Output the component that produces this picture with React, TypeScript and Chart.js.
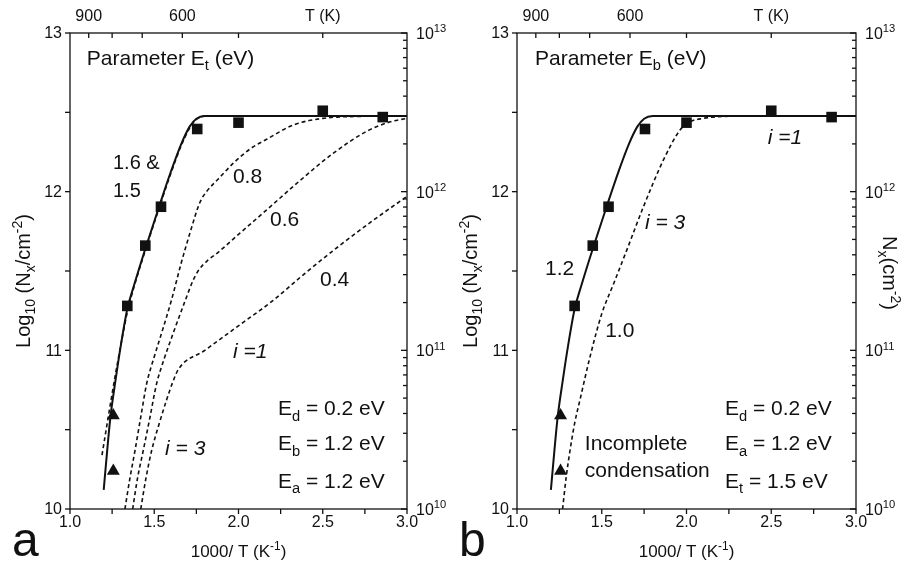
import React, { useEffect, useRef } from "react";
import { Chart, registerables } from "chart.js";

Chart.register(...registerables);

const FONT = '"Liberation Sans", Arial, Helvetica, sans-serif';
const INK = "#111";

// ---------- axes ----------
const X_MIN = 1.0;
const X_MAX = 3.0;
const Y_MIN = 10;
const Y_MAX = 13;
const X_TICK_LABELS = [1.0, 1.5, 2.0, 2.5, 3.0];
const X_MINOR_STEP = 0.25;
const Y_TICK_LABELS = [10, 11, 12, 13];
const Y_MINOR_STEP = 0.5;
const TEMP_TICKS_K = [900, 800, 700, 600, 500, 400];
const TEMP_LABELS = ["900", "", "", "600", "", "T (K)"];
const DECADES = [10, 11, 12, 13];
const LOG_MINORS = [2, 3, 4, 5, 6, 7, 8, 9];

// ---------- data (x = 1000/T, y = log10 Nx) ----------
const sqX = [1.34, 1.447, 1.54, 1.755, 2.0, 2.5, 2.856];
const sqY = [11.28, 11.66, 11.905, 12.395, 12.435, 12.51, 12.47];
const triX = [1.257, 1.257];
const triY = [10.59, 10.24];

// solid fit (Et = 1.6 in a, Eb = 1.2 in b)
const fitX = [1.2, 1.22, 1.24, 1.27, 1.3, 1.34, 1.38, 1.45, 1.53, 1.6, 1.66, 1.71, 1.75, 1.8, 2.2, 3.0];
const fitY = [10.12, 10.36, 10.58, 10.81, 11.02, 11.26, 11.41, 11.65, 11.91, 12.13, 12.3, 12.41, 12.46, 12.477, 12.477, 12.477];

// panel a: parameter Et
const et15X = [1.19, 1.21, 1.23, 1.27, 1.31, 1.34, 1.38, 1.45, 1.53, 1.6, 1.66, 1.71, 1.75, 1.8, 2.2, 3.0];
const et15Y = [10.34, 10.47, 10.6, 10.85, 11.08, 11.24, 11.4, 11.64, 11.9, 12.12, 12.29, 12.4, 12.455, 12.477, 12.477, 12.477];
const et08X = [1.326, 1.355, 1.386, 1.42, 1.455, 1.5, 1.544, 1.603, 1.66, 1.712, 1.77, 1.81, 1.88, 1.97, 2.07, 2.167, 2.325, 2.5, 2.7, 3.0];
const et08Y = [10.0, 10.19, 10.37, 10.58, 10.79, 10.96, 11.11, 11.32, 11.55, 11.74, 11.93, 12.0, 12.08, 12.18, 12.27, 12.33, 12.42, 12.462, 12.474, 12.477];
const et06X = [1.372, 1.4, 1.435, 1.475, 1.514, 1.56, 1.613, 1.686, 1.73, 1.76, 1.82, 1.87, 2.01, 2.167, 2.365, 2.56, 2.76, 2.9, 3.0];
const et06Y = [10.0, 10.19, 10.37, 10.58, 10.79, 10.95, 11.11, 11.32, 11.44, 11.5, 11.57, 11.61, 11.74, 11.885, 12.07, 12.24, 12.38, 12.44, 12.462];
const et04X = [1.42, 1.45, 1.485, 1.53, 1.574, 1.61, 1.643, 1.8, 2.02, 2.2, 2.4, 2.6, 2.8, 3.0];
const et04Y = [10.0, 10.19, 10.37, 10.54, 10.69, 10.8, 10.88, 11.0, 11.17, 11.31, 11.49, 11.66, 11.82, 11.97];

// panel b: parameter Eb
const eb10X = [1.269, 1.29, 1.313, 1.34, 1.372, 1.431, 1.5, 1.57, 1.647, 1.746, 1.864, 1.963, 2.02, 2.1, 2.18, 2.4, 3.0];
const eb10Y = [10.0, 10.2, 10.37, 10.54, 10.69, 10.96, 11.23, 11.42, 11.63, 11.905, 12.2, 12.39, 12.44, 12.462, 12.472, 12.477, 12.477];

const pts = (xs: number[], ys: number[]) => xs.map((x, i) => ({ x, y: ys[i] }));

type Seg = { t: string; k?: "sub" | "sup"; i?: boolean };
type Note = { x: number; y: number; segs: Seg[]; size: number; base?: "mid" | "alpha" };

const plain = (t: string): Seg[] => [{ t }];
const ital = (t: string): Seg[] => [{ t, i: true }];
const eq = (sym: string, sub: string, rest: string): Seg[] => [{ t: sym }, { t: sub, k: "sub" }, { t: rest }];

const NS = 21;
const NOTES_A: Note[] = [
  { x: 1.1, y: 12.8, segs: eq("Parameter E", "t", " (eV)"), size: NS, base: "alpha" },
  { x: 1.255, y: 12.19, segs: plain("1.6 &"), size: 20 },
  { x: 1.255, y: 12.01, segs: plain("1.5"), size: 20 },
  { x: 1.967, y: 12.1, segs: plain("0.8"), size: NS },
  { x: 2.187, y: 11.83, segs: plain("0.6"), size: NS },
  { x: 2.484, y: 11.456, segs: plain("0.4"), size: NS },
  { x: 1.967, y: 11.0, segs: ital("i =1"), size: NS },
  { x: 1.564, y: 10.39, segs: ital("i = 3"), size: NS },
  { x: 2.234, y: 10.637, segs: eq("E", "d", " = 0.2 eV"), size: NS },
  { x: 2.234, y: 10.417, segs: eq("E", "b", " = 1.2 eV"), size: NS },
  { x: 2.234, y: 10.183, segs: eq("E", "a", " = 1.2 eV"), size: NS },
];

const NOTES_B: Note[] = [
  { x: 1.106, y: 12.8, segs: eq("Parameter E", "b", " (eV)"), size: NS, base: "alpha" },
  { x: 2.48, y: 12.345, segs: ital("i =1"), size: NS },
  { x: 1.755, y: 11.81, segs: ital("i = 3"), size: NS },
  { x: 1.165, y: 11.52, segs: plain("1.2"), size: NS },
  { x: 1.52, y: 11.13, segs: plain("1.0"), size: NS },
  { x: 1.4, y: 10.42, segs: plain("Incomplete"), size: NS },
  { x: 1.4, y: 10.25, segs: plain("condensation"), size: NS },
  { x: 2.227, y: 10.637, segs: eq("E", "d", " = 0.2 eV"), size: NS },
  { x: 2.227, y: 10.417, segs: eq("E", "a", " = 1.2 eV"), size: NS },
  { x: 2.227, y: 10.183, segs: eq("E", "t", " = 1.5 eV"), size: NS },
];

function segFont(s: Seg, size: number) {
  const sz = s.k ? size * 0.7 : size;
  return `${s.i ? "italic " : ""}${sz}px ${FONT}`;
}
function richWidth(ctx: CanvasRenderingContext2D, segs: Seg[], size: number) {
  let w = 0;
  for (const s of segs) {
    ctx.font = segFont(s, size);
    w += ctx.measureText(s.t).width;
  }
  return w;
}
function drawRich(
  ctx: CanvasRenderingContext2D,
  segs: Seg[],
  x: number,
  y: number,
  size: number,
  align: "left" | "center" | "right"
) {
  const w = richWidth(ctx, segs, size);
  let cx = align === "center" ? x - w / 2 : align === "right" ? x - w : x;
  ctx.textAlign = "left";
  ctx.textBaseline = "alphabetic";
  for (const s of segs) {
    ctx.font = segFont(s, size);
    const dy = s.k === "sub" ? size * 0.27 : s.k === "sup" ? -size * 0.42 : 0;
    ctx.fillText(s.t, cx, y + dy);
    cx += ctx.measureText(s.t).width;
  }
}

type PanelOpts = {
  letter: string;
  notes: Note[];
  rightTitle: boolean;
};

const paperAxes = {
  id: "paperAxes",
  afterDraw(chart: any, _args: any, opts: PanelOpts) {
    const ctx: CanvasRenderingContext2D = chart.ctx;
    const a = chart.chartArea;
    const xs = chart.scales.x;
    const ys = chart.scales.y;
    ctx.save();
    ctx.strokeStyle = INK;
    ctx.fillStyle = INK;
    ctx.lineWidth = 1.3;
    ctx.strokeRect(a.left, a.top, a.right - a.left, a.bottom - a.top);

    const line = (x1: number, y1: number, x2: number, y2: number) => {
      ctx.beginPath();
      ctx.moveTo(x1, y1);
      ctx.lineTo(x2, y2);
      ctx.stroke();
    };

    // bottom ticks (outward)
    for (let v = X_MIN; v <= X_MAX + 1e-9; v += X_MINOR_STEP) {
      const px = xs.getPixelForValue(v);
      line(px, a.bottom, px, a.bottom + 5);
    }
    ctx.font = `16px ${FONT}`;
    ctx.textAlign = "center";
    ctx.textBaseline = "alphabetic";
    for (const v of X_TICK_LABELS) {
      ctx.fillText(v.toFixed(1), xs.getPixelForValue(v), a.bottom + 18);
    }
    // left ticks (outward)
    for (let v = Y_MIN; v <= Y_MAX + 1e-9; v += Y_MINOR_STEP) {
      const py = ys.getPixelForValue(v);
      line(a.left - 5, py, a.left, py);
    }
    ctx.textAlign = "right";
    ctx.textBaseline = "middle";
    for (const v of Y_TICK_LABELS) {
      ctx.fillText(String(v), a.left - 8, ys.getPixelForValue(v) + 1);
    }
    // top temperature ticks (inward)
    ctx.textAlign = "center";
    ctx.textBaseline = "alphabetic";
    TEMP_TICKS_K.forEach((T, i) => {
      const px = xs.getPixelForValue(1000 / T);
      line(px, a.top, px, a.top + 5);
      if (TEMP_LABELS[i]) ctx.fillText(TEMP_LABELS[i], px, a.top - 12);
    });
    // right log ticks (inward)
    DECADES.forEach((d) => {
      const py = ys.getPixelForValue(d);
      line(a.right - 6, py, a.right, py);
      if (d < Y_MAX) {
        for (const m of LOG_MINORS) {
          const pm = ys.getPixelForValue(d + Math.log10(m));
          line(a.right - 4, pm, a.right, pm);
        }
      }
      drawRich(ctx, [{ t: "10" }, { t: String(d), k: "sup" }], a.right + 9, py + 6, 16, "left");
    });

    // bottom axis title
    drawRich(
      ctx,
      [{ t: "1000/ T (K" }, { t: "-1", k: "sup" }, { t: ")" }],
      (a.left + a.right) / 2,
      a.bottom + 48,
      17,
      "center"
    );
    // left axis title
    ctx.save();
    ctx.translate(a.left - 40, (a.top + a.bottom) / 2 + 10);
    ctx.rotate(-Math.PI / 2);
    drawRich(
      ctx,
      [{ t: "Log" }, { t: "10", k: "sub" }, { t: " (N" }, { t: "x", k: "sub" }, { t: "/cm" }, { t: "-2", k: "sup" }, { t: ")" }],
      0,
      0,
      20,
      "center"
    );
    ctx.restore();
    if (opts.rightTitle) {
      ctx.save();
      ctx.translate(a.right + 27, (a.top + a.bottom) / 2 + 2);
      ctx.rotate(Math.PI / 2);
      drawRich(
        ctx,
        [{ t: "N" }, { t: "x", k: "sub" }, { t: "(cm" }, { t: "-2", k: "sup" }, { t: ")" }],
        0,
        0,
        20,
        "center"
      );
      ctx.restore();
    }
    // panel letter
    ctx.font = `48px ${FONT}`;
    ctx.textAlign = "left";
    ctx.textBaseline = "alphabetic";
    ctx.fillText(opts.letter, a.left - 58, a.bottom + 47);

    // annotations
    for (const n of opts.notes) {
      const px = xs.getPixelForValue(n.x);
      const py = ys.getPixelForValue(n.y);
      const yb = n.base === "alpha" ? py : py + n.size * 0.36;
      drawRich(ctx, n.segs, px, yb, n.size, "left");
    }
    ctx.restore();
  },
};

const dashed = (xs: number[], ys: number[]) => ({
  data: pts(xs, ys),
  showLine: true,
  borderColor: INK,
  borderWidth: 1.6,
  borderDash: [4, 3],
  pointRadius: 0,
  cubicInterpolationMode: "monotone" as const,
});
const solid = () => ({
  data: pts(fitX, fitY),
  showLine: true,
  borderColor: INK,
  borderWidth: 2,
  pointRadius: 0,
  cubicInterpolationMode: "monotone" as const,
});
const markers = () => [
  {
    data: pts(sqX, sqY),
    showLine: false,
    pointStyle: "rect",
    pointRadius: 7.5,
    backgroundColor: INK,
    borderColor: INK,
    borderWidth: 0,
  },
  {
    data: pts(triX, triY),
    showLine: false,
    pointStyle: "triangle",
    pointRadius: 7.5,
    backgroundColor: INK,
    borderColor: INK,
    borderWidth: 0,
  },
];

function Panel(props: {
  left: number;
  width: number;
  pad: { left: number; right: number; top: number; bottom: number };
  datasets: any[];
  opts: PanelOpts;
}) {
  const ref = useRef<HTMLCanvasElement | null>(null);
  useEffect(() => {
    if (!ref.current) return;
    const chart = new Chart(ref.current, {
      type: "scatter",
      data: { datasets: props.datasets },
      options: {
        responsive: false,
        animation: false,
        devicePixelRatio: 1,
        layout: { padding: props.pad },
        scales: {
          x: { type: "linear", min: X_MIN, max: X_MAX, display: false },
          y: { type: "linear", min: Y_MIN, max: Y_MAX, display: false },
        },
        plugins: {
          legend: { display: false },
          tooltip: { enabled: false },
          paperAxes: props.opts,
        } as any,
      },
      plugins: [paperAxes],
    });
    return () => chart.destroy();
  }, []);
  return (
    <canvas
      ref={ref}
      width={props.width}
      height={566}
      style={{ position: "absolute", left: props.left, top: 0, width: props.width, height: 566 }}
    />
  );
}

export default function App() {
  const dsA = [
    dashed(et15X, et15Y),
    dashed(et08X, et08Y),
    dashed(et06X, et06Y),
    dashed(et04X, et04Y),
    solid(),
    ...markers(),
  ];
  const dsB = [dashed(eb10X, eb10Y), solid(), ...markers()];
  return (
    <div style={{ position: "fixed", left: 0, top: 0, width: 909, height: 566, background: "#fff" }}>
      <Panel
        left={0}
        width={450}
        pad={{ left: 70, right: 43, top: 33, bottom: 57 }}
        datasets={dsA}
        opts={{ letter: "a", notes: NOTES_A, rightTitle: false }}
      />
      <Panel
        left={450}
        width={459}
        pad={{ left: 67, right: 53, top: 33, bottom: 57 }}
        datasets={dsB}
        opts={{ letter: "b", notes: NOTES_B, rightTitle: true }}
      />
    </div>
  );
}
